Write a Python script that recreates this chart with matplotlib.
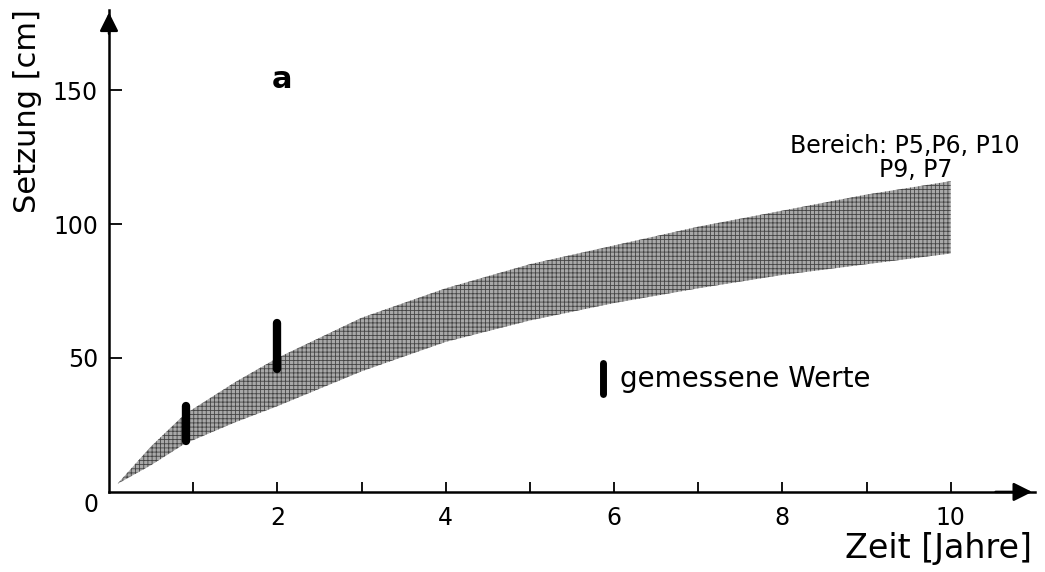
import numpy as np
import matplotlib.pyplot as plt
from matplotlib import rcParams

# Setzungsbereich (obere und untere Grenze) ueber der Zeit
zeit = [0.1, 0.5, 0.9, 1.5, 2, 3, 4, 5, 6, 7, 8, 9, 10]
setzung_oben = [3, 17, 29, 41, 50, 65, 76, 85, 92, 99, 105, 111, 116]
setzung_unten = [3, 10, 18, 26, 32, 45, 56, 64, 70.5, 76, 81, 85, 89]

# gemessene Werte: Zeitpunkt, min, max
mess_zeit = [0.91, 2.0]
mess_min = [19, 46]
mess_max = [32, 63]

x_ticks = np.arange(1, 11)
x_labels = ['', '2', '', '4', '', '6', '', '8', '', '10']
y_ticks = [50, 100, 150]

rcParams['font.family'] = 'DejaVu Sans'
rcParams['hatch.linewidth'] = 0.6
rcParams['hatch.color'] = '#222222'

fig = plt.figure(figsize=(10.45, 5.72), dpi=100)
ax = fig.add_axes([0.1043, 0.140, 0.886, 0.843])
ax.set_xlim(0, 11.0)
ax.set_ylim(0, 180)

# schraffierter Bereich
ax.fill_between(zeit, setzung_unten, setzung_oben, facecolor='#a8a8a8',
                edgecolor='#444444', hatch='++++', linewidth=0)

# Messwerte als dicke Balken
for t, lo, hi in zip(mess_zeit, mess_min, mess_max):
    ax.plot([t, t], [lo, hi], color='black', lw=6, solid_capstyle='round')

# Legende
ax.plot([5.87, 5.87], [36.5, 48], color='black', lw=5, solid_capstyle='round')
ax.text(6.07, 42, 'gemessene Werte', fontsize=20, va='center', ha='left')

ax.text(2.06, 154, 'a', fontsize=22, fontweight='bold', ha='center', va='center')
ax.text(10.82, 126.5, 'Bereich: P5,P6, P10', fontsize=17, ha='right', va='baseline')
ax.text(10.02, 117.5, 'P9, P7', fontsize=17, ha='right', va='baseline')

# Achsen mit Pfeilen
for s in ['top', 'right']:
    ax.spines[s].set_visible(False)
for s in ['left', 'bottom']:
    ax.spines[s].set_linewidth(1.8)
ax.annotate('', xy=(11.0, 0), xytext=(10.5, 0),
            arrowprops=dict(arrowstyle='-|>', color='black', lw=1.8,
                            mutation_scale=28), annotation_clip=False)
ax.annotate('', xy=(0, 180), xytext=(0, 170),
            arrowprops=dict(arrowstyle='-|>', color='black', lw=1.8,
                            mutation_scale=28), annotation_clip=False)

ax.set_xticks(x_ticks)
ax.set_xticklabels(x_labels)
ax.set_yticks(y_ticks)
ax.tick_params(axis='x', direction='in', length=7, width=1.3, pad=10, labelsize=17)
ax.tick_params(axis='y', direction='in', length=9, width=1.3, pad=8, labelsize=17)
ax.text(-0.12, -5, '0', fontsize=17, ha='right', va='center')

ax.set_ylabel('Setzung [cm]', fontsize=22)
ax.yaxis.set_label_coords(-0.072, 0.79)
ax.text(10.97, -24.6, 'Zeit [Jahre]', fontsize=24, ha='right', va='baseline',
        clip_on=False)

plt.savefig('out.png', dpi=100)
